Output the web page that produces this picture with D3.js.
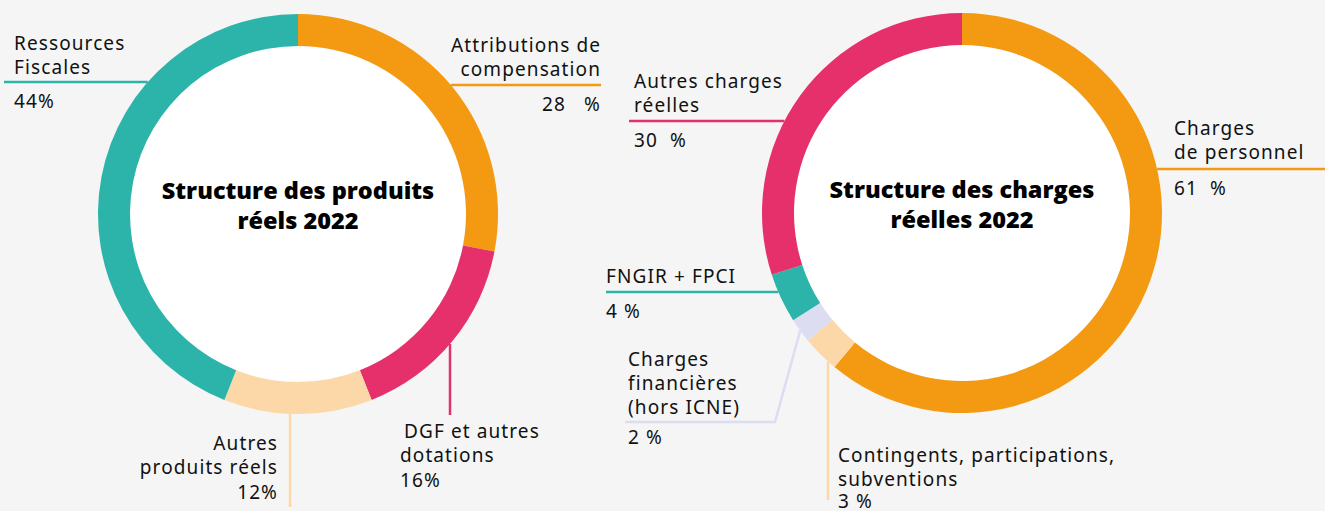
<!DOCTYPE html>
<html>
<head>
<meta charset="utf-8">
<script src="https://cdn.jsdelivr.net/npm/d3@7"></script>
<style>
  body { margin: 0; background: #f4f5f4; }
  svg { display: block; }
  .label { font-family: "Noto Sans", sans-serif; font-size: 19px; letter-spacing: 1.1px; fill: #111; }
  .title { font-family: "Open Sans", sans-serif; font-weight: 800; font-size: 23.5px; fill: #000; }
</style>
</head>
<body>
<div id="chart"></div>
<script>
// produits (recettes réelles 2022)
const produitsNames = ["Attributions de compensation", "DGF et autres dotations", "Autres produits réels", "Ressources Fiscales"];
const produitsValues = [28, 16, 12, 44];
const produitsColors = ["#f39a12", "#e6306b", "#fcd8a8", "#2cb4aa"];

// charges réelles 2022
const chargesNames = ["Charges de personnel", "Contingents, participations, subventions", "Charges financières (hors ICNE)", "FNGIR + FPCI", "Autres charges réelles"];
const chargesValues = [61, 3, 2, 4, 30];
const chargesColors = ["#f39a12", "#fcd8a8", "#dcddf0", "#2cb4aa", "#e6306b"];

const width = 1325;
const height = 511;

const svg = d3.select("#chart")
  .append("svg")
  .attr("width", width)
  .attr("height", height);

svg.append("rect").attr("width", width).attr("height", height).attr("fill", "#f4f5f4");

// label layout: lead h = horizontal leader at ly, v = vertical leader at lx
const produitsLabels = [
  { lines: ["Attributions de", "compensation"], pct: "28   %", anchor: "end", tx: 601, ty: 52, lead: "h", ly: 85, lx: 601 },
  { lines: ["DGF et autres", "dotations"], pct: "16%", anchor: "start", tx: 400, ty: 438, lead: "v", lx: 450, ly: 415, indent: 4 },
  { lines: ["Autres", "produits réels"], pct: "12%", anchor: "end", tx: 278, ty: 450, lead: "v", lx: 290, ly: 507 },
  { lines: ["Ressources", "Fiscales"], pct: "44%", anchor: "start", tx: 14, ty: 50, lead: "h", ly: 82, lx: 4 }
];

const chargesLabels = [
  { lines: ["Charges", "de personnel"], pct: "61  %", anchor: "start", tx: 1174, ty: 135, lead: "h", ly: 169, lx: 1325 },
  { lines: ["Contingents, participations,", "subventions"], pct: "3 %", anchor: "start", tx: 838, ty: 462, lead: "v", lx: 828, ly: 500, pctGap: 22 },
  { lines: ["Charges", "financières", "(hors ICNE)"], pct: "2 %", anchor: "start", tx: 628, ty: 366, lead: "bent", lx: 625, ly: 422, bx: 775 },
  { lines: ["FNGIR + FPCI"], pct: "4 %", anchor: "start", tx: 606, ty: 283, lead: "h", ly: 292, lx: 606 },
  { lines: ["Autres charges", "réelles"], pct: "30  %", anchor: "start", tx: 634, ty: 88, lead: "h", ly: 121, lx: 629 }
];

function drawDonut(cx, cy, names, values, colors, labels, title) {
  const outer = 200;
  const inner = 168;
  const g = svg.append("g").attr("transform", `translate(${cx},${cy})`);

  const pie = d3.pie().sort(null).value((d) => d);
  const arcs = pie(values);
  const arc = d3.arc().innerRadius(inner).outerRadius(outer);

  g.append("circle").attr("r", inner).attr("fill", "#fff");

  g.selectAll("path")
    .data(arcs)
    .join("path")
    .attr("d", arc)
    .attr("fill", (d, i) => colors[i]);

  // leaders + labels
  arcs.forEach((a, i) => {
    const lab = labels[i];
    const color = colors[i];
    let pts;
    if (lab.lead === "h") {
      const dy = lab.ly - cy;
      const dx = Math.sqrt(outer * outer - dy * dy);
      const ex = lab.lx > cx ? cx + dx : cx - dx;
      pts = [[lab.lx, lab.ly], [ex, lab.ly]];
    } else if (lab.lead === "v") {
      const dx = lab.lx - cx;
      const dy = Math.sqrt(outer * outer - dx * dx);
      pts = [[lab.lx, lab.ly], [lab.lx, cy + dy]];
    } else {
      const mid = (a.startAngle + a.endAngle) / 2;
      pts = [[lab.lx, lab.ly], [lab.bx, lab.ly], [cx + outer * Math.sin(mid), cy - outer * Math.cos(mid)]];
    }
    svg.append("path")
      .attr("d", d3.line()(pts))
      .attr("fill", "none")
      .attr("stroke", color)
      .attr("stroke-width", 2.5);

    const t = svg.append("text")
      .attr("class", "label")
      .attr("text-anchor", lab.anchor);
    lab.lines.forEach((line, k) => {
      t.append("tspan")
        .attr("x", lab.tx + (k === 0 && lab.indent ? lab.indent : 0))
        .attr("y", lab.ty + k * 24)
        .text(line);
    });
    let py;
    if (lab.lead === "h") py = lab.ly + 26;
    else if (lab.lead === "bent") py = lab.ly + 22;
    else py = lab.ty + lab.lines.length * 24 + (lab.pctGap ? lab.pctGap - 24 : 1);
    svg.append("text")
      .attr("class", "label")
      .attr("text-anchor", lab.anchor)
      .attr("x", lab.tx)
      .attr("y", py)
      .style("white-space", "pre")
      .text(lab.pct);
  });

  const tt = g.append("text").attr("class", "title").attr("text-anchor", "middle");
  title.forEach((line, k) => {
    tt.append("tspan").attr("x", 0).attr("y", -15 + k * 30).text(line);
  });
}

drawDonut(298, 214, produitsNames, produitsValues, produitsColors, produitsLabels, ["Structure des produits", "réels 2022"]);
drawDonut(962, 213, chargesNames, chargesValues, chargesColors, chargesLabels, ["Structure des charges", "réelles 2022"]);
</script>
</body>
</html>
